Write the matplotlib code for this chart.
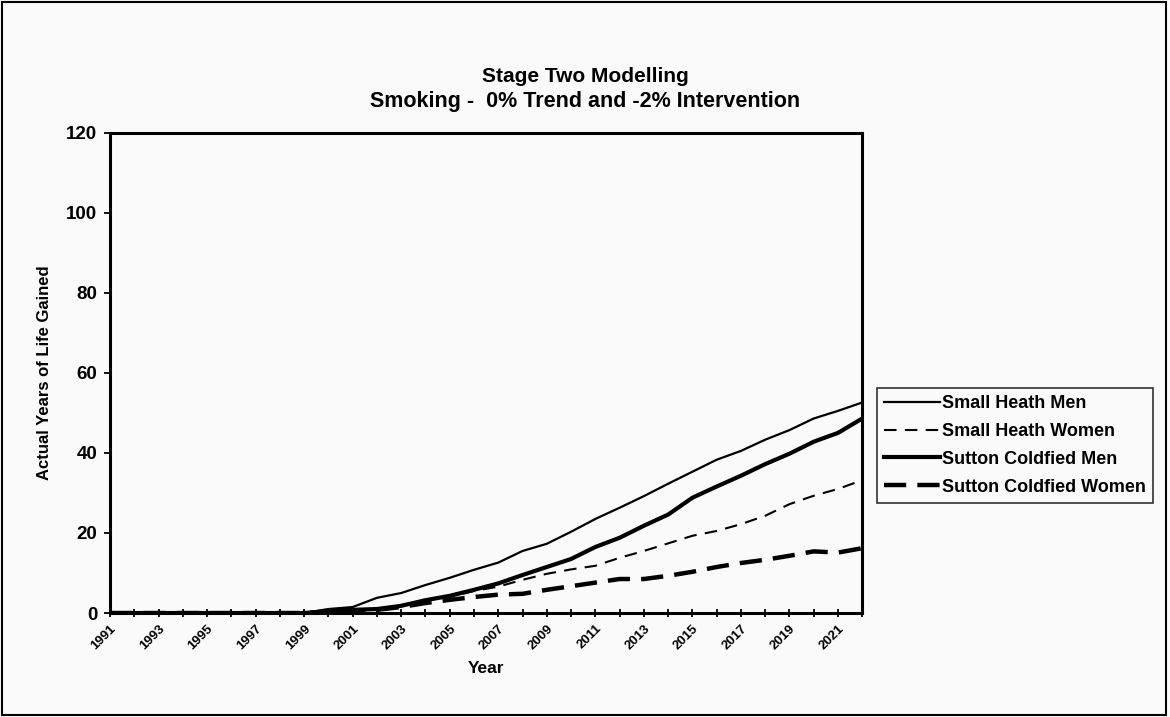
import matplotlib
matplotlib.use("Agg")
import matplotlib.pyplot as plt
from matplotlib.patches import Rectangle

plt.rcParams["font.family"] = ["Liberation Sans", "DejaVu Sans"]
plt.rcParams["font.weight"] = "bold"

years = list(range(1991, 2023))
pre = [0] * 9  # 1991-1999

small_heath_men = pre + [1, 1.5, 3.8, 5, 7, 8.8, 10.8, 12.6, 15.5, 17.3, 20.3, 23.5,
                         26.3, 29.2, 32.3, 35.3, 38.3, 40.5, 43.3, 45.7, 48.6, 50.5, 52.6]
small_heath_women = pre + [0.5, 0.8, 1, 2, 3, 4, 5.5, 6.6, 8.3, 9.8, 10.9, 11.8,
                           13.8, 15.5, 17.4, 19.3, 20.5, 22.2, 24.3, 27.2, 29.3, 31, 33.2]
sutton_men = pre + [0.5, 0.8, 1, 1.8, 3.2, 4.3, 5.8, 7.4, 9.5, 11.5, 13.5, 16.5,
                    18.8, 21.8, 24.6, 28.8, 31.6, 34.3, 37.2, 39.8, 42.8, 45, 48.6]
sutton_women = pre + [0.3, 0.5, 0.8, 1.5, 2.5, 3.3, 4, 4.6, 4.8, 5.8, 6.7, 7.6,
                      8.5, 8.5, 9.3, 10.3, 11.5, 12.5, 13.3, 14.3, 15.4, 15.1, 16.2]

labels = ["Small Heath Men", "Small Heath Women",
          "Sutton Coldfied Men", "Sutton Coldfied Women"]

fig = plt.figure(figsize=(11.7, 7.17), dpi=100, facecolor="#fafafa")
ax = fig.add_axes([0.094, 0.145, 0.643, 0.670])
ax.set_facecolor("#fafafa")

ax.plot(years, small_heath_men, color="black", lw=1.6, label=labels[0])
ax.plot(years, small_heath_women, color="black", lw=1.5, dashes=(6, 4), label=labels[1])
ax.plot(years, sutton_men, color="black", lw=3.0, label=labels[2])
ax.plot(years, sutton_women, color="black", lw=3.2, dashes=(5, 2.5), label=labels[3])

ax.set_xlim(1991, 2022)
ax.set_ylim(0, 120)
ax.set_yticks(range(0, 121, 20))
ax.set_xticks(years)
ax.set_xticklabels([str(y) if (y - 1991) % 2 == 0 and y < 2022 else "" for y in years],
                   rotation=45, ha="right", rotation_mode="anchor", fontsize=9.5)
ax.tick_params(axis="x", direction="inout", length=6, width=1.3, pad=4)
ax.tick_params(axis="y", direction="out", length=4, width=1.3, labelsize=13.5, pad=5)
for s in ax.spines.values():
    s.set_linewidth(2.2)

ax.set_xlabel("Year", fontsize=12.5, fontweight="bold", labelpad=6)
ax.set_ylabel("Actual Years of Life Gained", fontsize=12, fontweight="bold", labelpad=10)

fig.text(0.5, 0.893, "Stage Two Modelling", ha="center", va="center",
         fontsize=15, fontweight="bold")
fig.text(0.5, 0.858, "Smoking -  0% Trend and -2% Intervention", ha="center", va="center",
         fontsize=15.5, fontweight="bold")

leg = fig.legend(loc="center left", bbox_to_anchor=(0.742, 0.379), frameon=True,
                 fancybox=False, edgecolor="black", facecolor="#fafafa",
                 prop={"weight": "bold", "size": 13}, handlelength=3.1,
                 handletextpad=0.1, borderpad=0.4, labelspacing=0.6)
leg.get_frame().set_linewidth(1.2)

fig.add_artist(Rectangle((0.002, 0.003), 0.995, 0.994, transform=fig.transFigure,
                         fill=False, edgecolor="black", lw=1.5))

fig.savefig("out.png", dpi=100, facecolor=fig.get_facecolor())
